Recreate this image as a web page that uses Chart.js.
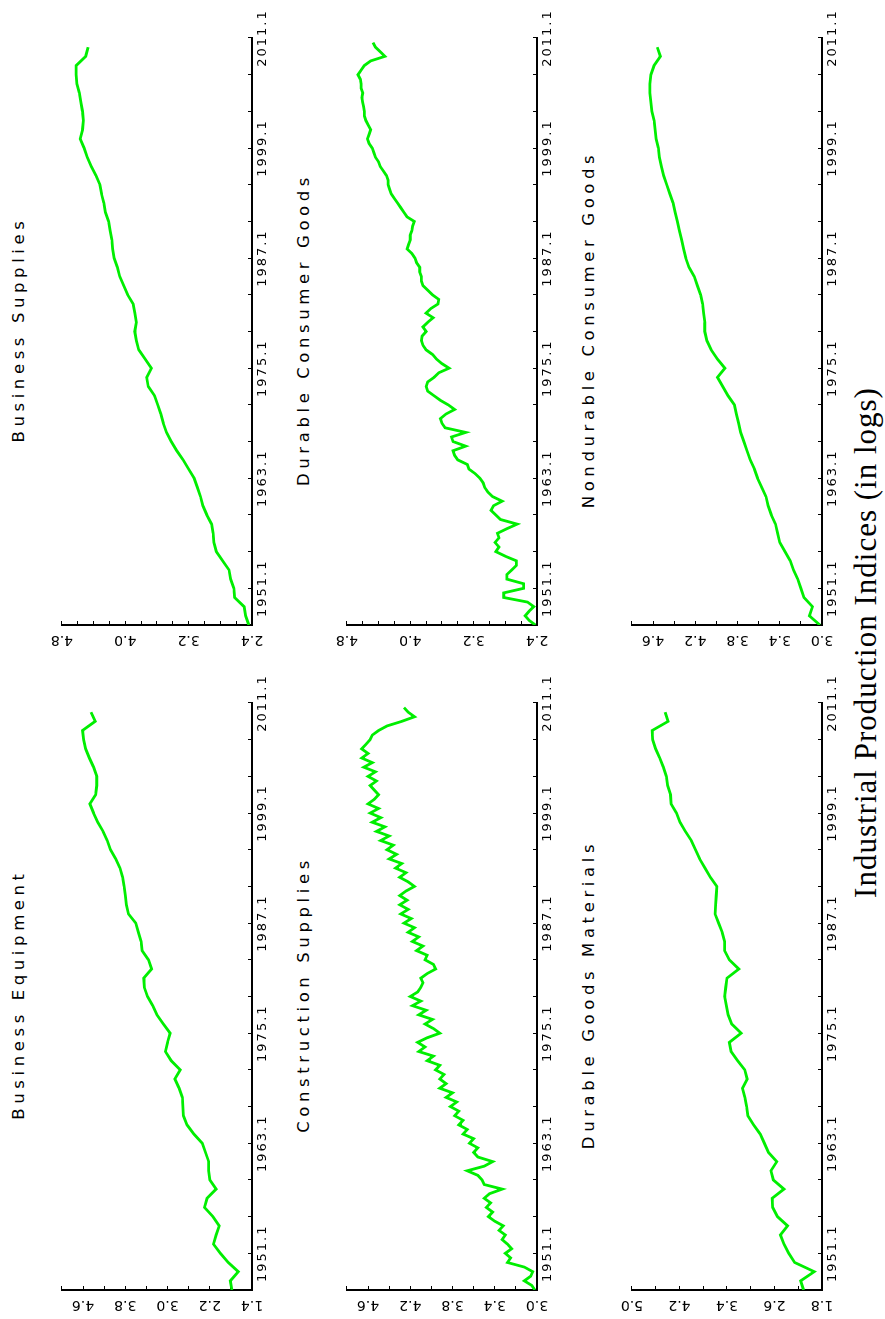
<!DOCTYPE html>
<html>
<head>
<meta charset="utf-8">
<title>Industrial Production Indices (in logs)</title>
<script src="https://cdn.jsdelivr.net/npm/chart.js@4.4.0/dist/chart.umd.min.js"></script>
<style>
    html, body { margin: 0; padding: 0; background: #fff; overflow: hidden; }
    #page {
        position: absolute; left: 0; top: 0; width: 1319px; height: 885px;
        transform-origin: 0 0; transform: translateY(1319px) rotate(-90deg);
        background: #fff;
    }
    .panel { position: absolute; }
    .title {
        position: absolute; font-family: "DejaVu Sans"; font-size: 16.5px; line-height: 1;
        letter-spacing: 4.6px; white-space: nowrap; text-align: center; color: #000;
    }
    #caption {
        position: absolute; left: 17px; width: 1319px; top: 850px; text-align: center;
        font-family: "Liberation Serif", serif; font-size: 31px; line-height: 1; letter-spacing: 1px;
        color: #000;
    }
</style>
</head>
<body>
<div id="page">
    <div id="caption">Industrial Production Indices (in logs)</div>
</div>
<script>
// time axis
const yearTicks = [1951, 1963, 1975, 1987, 1999, 2011];
const yearLabels = ['1951.1', '1963.1', '1975.1', '1987.1', '1999.1', '2011.1'];

const yearsAnnual = [
    1947, 1948, 1949, 1950, 1951, 1952, 1953, 1954, 1955, 1956, 1957, 1958, 1959, 1960, 1961, 1962,
    1963, 1964, 1965, 1966, 1967, 1968, 1969, 1970, 1971, 1972, 1973, 1974, 1975, 1976, 1977, 1978,
    1979, 1980, 1981, 1982, 1983, 1984, 1985, 1986, 1987, 1988, 1989, 1990, 1991, 1992, 1993, 1994,
    1995, 1996, 1997, 1998, 1999, 2000, 2001, 2002, 2003, 2004, 2005, 2006, 2007, 2008, 2009, 2010
];
const yearsHalf = [
    1947, 1947.5, 1948, 1948.5, 1949, 1949.5, 1950, 1950.5, 1951, 1951.5, 1952, 1952.5, 1953, 1953.5, 1954, 1954.5,
    1955, 1955.5, 1956, 1956.5, 1957, 1957.5, 1958, 1958.5, 1959, 1959.5, 1960, 1960.5, 1961, 1961.5, 1962, 1962.5,
    1963, 1963.5, 1964, 1964.5, 1965, 1965.5, 1966, 1966.5, 1967, 1967.5, 1968, 1968.5, 1969, 1969.5, 1970, 1970.5,
    1971, 1971.5, 1972, 1972.5, 1973, 1973.5, 1974, 1974.5, 1975, 1975.5, 1976, 1976.5, 1977, 1977.5, 1978, 1978.5,
    1979, 1979.5, 1980, 1980.5, 1981, 1981.5, 1982, 1982.5, 1983, 1983.5, 1984, 1984.5, 1985, 1985.5, 1986, 1986.5,
    1987, 1987.5, 1988, 1988.5, 1989, 1989.5, 1990, 1990.5, 1991, 1991.5, 1992, 1992.5, 1993, 1993.5, 1994, 1994.5,
    1995, 1995.5, 1996, 1996.5, 1997, 1997.5, 1998, 1998.5, 1999, 1999.5, 2000, 2000.5, 2001, 2001.5, 2002, 2002.5,
    2003, 2003.5, 2004, 2004.5, 2005, 2005.5, 2006, 2006.5, 2007, 2007.5, 2008, 2008.5, 2009, 2009.5, 2010, 2010.5
];

// series (log of index)
const businessEquipment = [
    1.78, 1.81, 1.66, 1.85, 2.00, 2.13, 2.08, 2.02, 2.14, 2.30, 2.25, 2.08, 2.20, 2.22, 2.22, 2.28,
    2.34, 2.50, 2.63, 2.70, 2.71, 2.72, 2.78, 2.86, 2.76, 2.93, 3.04, 3.00, 2.95, 3.08, 3.20, 3.28,
    3.38, 3.44, 3.45, 3.30, 3.36, 3.48, 3.50, 3.55, 3.60, 3.74, 3.78, 3.80, 3.82, 3.85, 3.90, 3.98,
    4.08, 4.14, 4.22, 4.32, 4.40, 4.47, 4.36, 4.34, 4.34, 4.40, 4.48, 4.55, 4.59, 4.61, 4.37, 4.45
];
const businessSupplies = [
    2.44, 2.48, 2.50, 2.62, 2.63, 2.67, 2.69, 2.77, 2.85, 2.88, 2.89, 2.91, 2.97, 3.02, 3.05, 3.09,
    3.13, 3.20, 3.27, 3.35, 3.42, 3.48, 3.52, 3.55, 3.59, 3.63, 3.71, 3.73, 3.67, 3.75, 3.83, 3.86,
    3.88, 3.86, 3.88, 3.90, 3.97, 4.02, 4.07, 4.10, 4.14, 4.16, 4.17, 4.19, 4.21, 4.25, 4.27, 4.30,
    4.32, 4.37, 4.43, 4.48, 4.52, 4.57, 4.54, 4.53, 4.54, 4.56, 4.58, 4.61, 4.62, 4.62, 4.50, 4.47
];
const constructionSupplies = [
    3.02, 3.05, 3.12, 3.06, 3.04, 3.12, 3.28, 3.25, 3.30, 3.24, 3.28, 3.33, 3.30, 3.36, 3.32, 3.40,
    3.46, 3.42, 3.48, 3.44, 3.50, 3.45, 3.33, 3.50, 3.52, 3.56, 3.66, 3.50, 3.42, 3.56, 3.60, 3.56,
    3.64, 3.60, 3.70, 3.66, 3.74, 3.70, 3.78, 3.74, 3.82, 3.76, 3.86, 3.80, 3.92, 3.86, 3.92, 3.88,
    3.96, 3.92, 4.04, 3.98, 4.12, 4.06, 4.13, 4.04, 3.92, 3.98, 4.06, 3.99, 4.12, 4.05, 4.18, 4.10,
    4.20, 4.13, 4.10, 4.08, 4.10, 4.04, 3.96, 3.98, 4.06, 4.04, 4.14, 4.08, 4.18, 4.12, 4.22, 4.16,
    4.26, 4.19, 4.29, 4.22, 4.30, 4.23, 4.30, 4.24, 4.16, 4.22, 4.30, 4.24, 4.34, 4.28, 4.40, 4.33,
    4.42, 4.36, 4.48, 4.40, 4.52, 4.44, 4.56, 4.48, 4.58, 4.50, 4.60, 4.54, 4.50, 4.54, 4.58, 4.52,
    4.60, 4.53, 4.64, 4.56, 4.66, 4.60, 4.66, 4.62, 4.58, 4.56, 4.50, 4.42, 4.28, 4.16, 4.22, 4.26
];
const durableConsumer = [
    2.42, 2.50, 2.55, 2.50, 2.44, 2.52, 2.82, 2.82, 2.57, 2.57, 2.78, 2.78, 2.72, 2.66, 2.66, 2.80,
    2.92, 2.88, 2.93, 2.88, 2.90, 2.78, 2.65, 2.86, 2.92, 2.98, 2.95, 2.84, 2.96, 3.02, 3.06, 3.08,
    3.12, 3.18, 3.26, 3.28, 3.40, 3.44, 3.46, 3.30, 3.46, 3.48, 3.30, 3.56, 3.60, 3.62, 3.55, 3.44,
    3.52, 3.62, 3.70, 3.78, 3.80, 3.78, 3.70, 3.64, 3.51, 3.60, 3.67, 3.72, 3.80, 3.84, 3.86, 3.85,
    3.80, 3.84, 3.78, 3.71, 3.80, 3.74, 3.65, 3.64, 3.72, 3.78, 3.84, 3.86, 3.86, 3.88, 3.88, 3.92,
    3.94, 3.98, 4.04, 4.02, 4.00, 4.00, 3.98, 3.97, 3.95, 4.04, 4.08, 4.12, 4.16, 4.20, 4.24, 4.26,
    4.28, 4.28, 4.30, 4.34, 4.38, 4.40, 4.44, 4.46, 4.48, 4.52, 4.54, 4.52, 4.50, 4.53, 4.56, 4.58,
    4.58, 4.59, 4.60, 4.61, 4.60, 4.62, 4.62, 4.63, 4.66, 4.62, 4.58, 4.50, 4.32, 4.38, 4.44, 4.47
];
const durableMaterials = [
    2.11, 2.16, 1.93, 2.26, 2.36, 2.44, 2.50, 2.38, 2.55, 2.63, 2.64, 2.44, 2.62, 2.66, 2.56, 2.70,
    2.77, 2.84, 2.95, 3.05, 3.07, 3.10, 3.14, 3.06, 3.10, 3.22, 3.33, 3.36, 3.16, 3.32, 3.38, 3.41,
    3.44, 3.42, 3.40, 3.20, 3.36, 3.44, 3.44, 3.48, 3.54, 3.60, 3.59, 3.58, 3.57, 3.68, 3.77, 3.86,
    3.93, 4.00, 4.10, 4.19, 4.25, 4.34, 4.35, 4.40, 4.42, 4.47, 4.53, 4.60, 4.65, 4.66, 4.39, 4.44
];
const nondurableConsumer = [
    3.02, 3.12, 3.09, 3.17, 3.20, 3.23, 3.27, 3.30, 3.35, 3.40, 3.42, 3.44, 3.48, 3.51, 3.53, 3.57,
    3.61, 3.64, 3.68, 3.71, 3.74, 3.77, 3.79, 3.81, 3.83, 3.89, 3.94, 3.99, 3.92, 3.99, 4.05, 4.09,
    4.11, 4.11, 4.12, 4.13, 4.15, 4.18, 4.21, 4.26, 4.29, 4.31, 4.33, 4.35, 4.37, 4.39, 4.41, 4.44,
    4.47, 4.50, 4.52, 4.54, 4.55, 4.57, 4.58, 4.59, 4.61, 4.62, 4.63, 4.63, 4.62, 4.59, 4.53, 4.56
];

// value-axis tick labels
const valueLabelsA = ['1.4', '2.2', '3.0', '3.8', '4.6'];
const valueLabelsB = ['2.4', '3.2', '4.0', '4.8'];
const valueLabelsC = ['3.0', '3.4', '3.8', '4.2', '4.6'];
const valueLabelsE = ['1.8', '2.6', '3.4', '4.2', '5.0'];

const panels = [
    { title: 'Business Equipment', x: yearsAnnual, y: businessEquipment, min: 1.4, max: 5.0, step: 0.4, labels: valueLabelsA },
    { title: 'Business Supplies', x: yearsAnnual, y: businessSupplies, min: 2.4, max: 4.8, step: 0.2, labels: valueLabelsB },
    { title: 'Construction Supplies', x: yearsHalf, y: constructionSupplies, min: 3.0, max: 4.8, step: 0.2, labels: valueLabelsC },
    { title: 'Durable Consumer Goods', x: yearsHalf, y: durableConsumer, min: 2.4, max: 4.8, step: 0.2, labels: valueLabelsB },
    { title: 'Durable Goods Materials', x: yearsAnnual, y: durableMaterials, min: 1.8, max: 5.0, step: 0.4, labels: valueLabelsE },
    { title: 'Nondurable Consumer Goods', x: yearsAnnual, y: nondurableConsumer, min: 3.0, max: 4.8, step: 0.2, labels: valueLabelsC }
];

const PLOT_W = 587, PLOT_H = 192;
const padL = 30, padR = 34, padT = 14, padB = 26;

// the old plotting package spaced its axis digits widely
const spacedYearLabels = {
    id: 'spacedYearLabels',
    beforeDraw(chart) {
        const sx = chart.scales.x;
        if (!sx || sx._spaced) return;
        const draw = sx.drawLabels;
        sx.drawLabels = function (area) {
            this.ctx.save();
            this.ctx.letterSpacing = '2px';
            draw.call(this, area);
            this.ctx.restore();
        };
        sx._spaced = true;
    }
};

const page = document.getElementById('page');

panels.forEach((p, i) => {
    const col = i % 2, row = Math.floor(i / 2);
    const left = 29 + col * 665, top = 60 + row * 285;

    const box = document.createElement('div');
    box.className = 'panel';
    box.style.left = (left - padL) + 'px';
    box.style.top = (top - padT) + 'px';
    const canvas = document.createElement('canvas');
    canvas.width = PLOT_W + padL + padR;
    canvas.height = PLOT_H + padT + padB;
    box.appendChild(canvas);
    page.appendChild(box);

    const title = document.createElement('div');
    title.className = 'title';
    title.textContent = p.title;
    title.style.left = (left + 2) + 'px';
    title.style.width = PLOT_W + 'px';
    title.style.top = (row * 285 + 11) + 'px';
    page.appendChild(title);

    new Chart(canvas.getContext('2d'), {
        type: 'line',
        data: {
            datasets: [{
                data: p.x.map((yr, k) => ({ x: yr, y: p.y[k] })),
                borderColor: 'rgb(0, 238, 0)',
                borderWidth: 2.8,
                pointRadius: 0,
                tension: 0,
                fill: false
            }]
        },
        options: {
            responsive: false,
            animation: false,
            layout: { padding: { left: 0, right: padR, top: padT, bottom: 0 } },
            plugins: { legend: { display: false }, tooltip: { enabled: false }, title: { display: false } },
            scales: {
                x: {
                    type: 'linear', min: 1947, max: 2011,
                    afterFit: s => { s.height = padB; },
                    grid: { drawOnChartArea: false, tickLength: -4, color: '#000', lineWidth: 1 },
                    border: { display: true, color: '#000', width: 2 },
                    ticks: {
                        stepSize: 4, autoSkip: false, minRotation: 0, maxRotation: 0, padding: 6.5,
                        color: '#000', font: { family: 'DejaVu Sans', size: 13 },
                        callback: v => {
                            const k = yearTicks.indexOf(Math.round(v));
                            return k >= 0 ? yearLabels[k] : '';
                        }
                    }
                },
                y: {
                    type: 'linear', min: p.min, max: p.max,
                    afterFit: s => { s.width = padL; },
                    grid: { drawOnChartArea: false, tickLength: -4, color: '#000', lineWidth: 1 },
                    border: { display: true, color: '#000', width: 2 },
                    ticks: {
                        stepSize: p.step, autoSkip: false, minRotation: 90, maxRotation: 90,
                        crossAlign: 'center', padding: 7.5, color: '#000',
                        font: { family: 'DejaVu Sans', size: 14 },
                        callback: v => p.labels.find(l => Math.abs(parseFloat(l) - v) < 1e-6) || ''
                    }
                }
            }
        },
        plugins: [spacedYearLabels]
    });
});
</script>
</body>
</html>
